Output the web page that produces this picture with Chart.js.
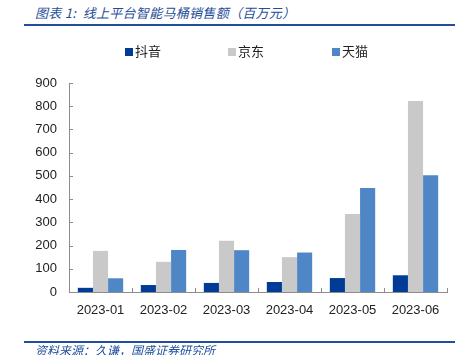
<!DOCTYPE html>
<html>
<head>
<meta charset="utf-8">
<script src="https://cdn.jsdelivr.net/npm/chart.js@4/dist/chart.umd.min.js"></script>
<style>
html,body{margin:0;padding:0;background:#fff;width:462px;height:355px;overflow:hidden;}
#wrap{position:relative;width:462px;height:355px;}
#c{position:absolute;left:0;top:0;}
.title{position:absolute;left:35px;top:3px;font-family:"Noto Sans CJK SC",sans-serif;font-style:italic;font-size:13px;color:#1f4e9a;white-space:nowrap;letter-spacing:0.3px;}
.rule{position:absolute;left:24px;width:431px;height:2px;background:#1f4e9a;}
.foot{position:absolute;left:35px;top:344px;line-height:12px;font-family:"Noto Sans CJK SC",sans-serif;font-style:italic;font-size:12px;color:#1f4e9a;white-space:nowrap;}
.leg{position:absolute;top:43px;font-family:"Noto Sans CJK SC",sans-serif;font-size:13px;color:#222;white-space:nowrap;line-height:16px;}
.leg i{display:inline-block;width:8px;height:8px;margin-right:2px;vertical-align:0px;}
</style>
</head>
<body>
<div id="wrap">
<div class="title">图表 1:&nbsp; 线上平台智能马桶销售额（百万元）</div>
<div class="rule" style="top:24px"></div>
<canvas id="c" width="462" height="355"></canvas>
<div id="legend"></div>
<div class="rule" style="top:341px;height:1.5px"></div>
<div class="foot">资料来源：久谦，国盛证券研究所</div>
</div>
<script>
const categories = ["2023-01","2023-02","2023-03","2023-04","2023-05","2023-06"];
const seriesNames = ["抖音","京东","天猫"];
const douyin = [18, 30, 39, 43, 60, 72];
const jingdong = [177, 130, 221, 150, 336, 822];
const tmall = [59, 181, 180, 170, 448, 503];
const yTicks = [0,100,200,300,400,500,600,700,800,900];
const colors = ["#003c96","#c9c9c9","#4f86c6"];

const legendX = [125, 228, 332];
const legendEl = document.getElementById('legend');
seriesNames.forEach((n,i)=>{
  const d = document.createElement('div');
  d.className='leg';
  d.style.left = legendX[i]+'px';
  d.innerHTML = '<i style="background:'+colors[i]+'"></i>'+n;
  legendEl.appendChild(d);
});

const innerTicks = {
  id:'innerTicks',
  afterDraw(chart){
    const ctx = chart.ctx, a = chart.chartArea;
    const ys = chart.scales.y;
    ctx.save();
    ctx.strokeStyle = '#8c8c8c';
    ctx.lineWidth = 1;
    ctx.beginPath();
    ys.ticks.forEach(t=>{
      const y = Math.round(ys.getPixelForValue(t.value))+0.5;
      ctx.moveTo(a.left, y); ctx.lineTo(a.left+4, y);
    });
    for(let i=1;i<=categories.length;i++){
      const x = Math.round(a.left + (a.right-a.left)*i/categories.length)+0.5;
      ctx.moveTo(x, a.bottom); ctx.lineTo(x, a.bottom-4);
    }
    ctx.stroke();
    ctx.restore();
  }
};

new Chart(document.getElementById('c'), {
  type:'bar',
  data:{
    labels: categories,
    datasets:[
      {label:seriesNames[0], data:douyin, backgroundColor:colors[0]},
      {label:seriesNames[1], data:jingdong, backgroundColor:colors[1]},
      {label:seriesNames[2], data:tmall, backgroundColor:colors[2]}
    ]
  },
  options:{
    responsive:false,
    animation:false,
    devicePixelRatio:1,
    layout:{padding:{top:83,right:15,bottom:0,left:0}},
    datasets:{bar:{categoryPercentage:0.72,barPercentage:1.0,borderWidth:0}},
    plugins:{legend:{display:false},title:{display:false},tooltip:{enabled:false}},
    scales:{
      x:{
        grid:{display:false,drawTicks:false},
        border:{display:true,color:'#8c8c8c',width:1},
        ticks:{font:{family:'Liberation Sans',size:13},color:'#222',padding:11,maxRotation:0},
        afterFit(s){s.height=63;}
      },
      y:{
        min:0,max:900,
        grid:{display:false,drawTicks:false},
        border:{display:true,color:'#8c8c8c',width:1},
        afterBuildTicks(s){s.ticks = yTicks.map(v=>({value:v}));},
        ticks:{font:{family:'Liberation Sans',size:13},color:'#222',padding:12},
        afterFit(s){s.width=69;}
      }
    }
  },
  plugins:[innerTicks]
});
</script>
</body>
</html>
